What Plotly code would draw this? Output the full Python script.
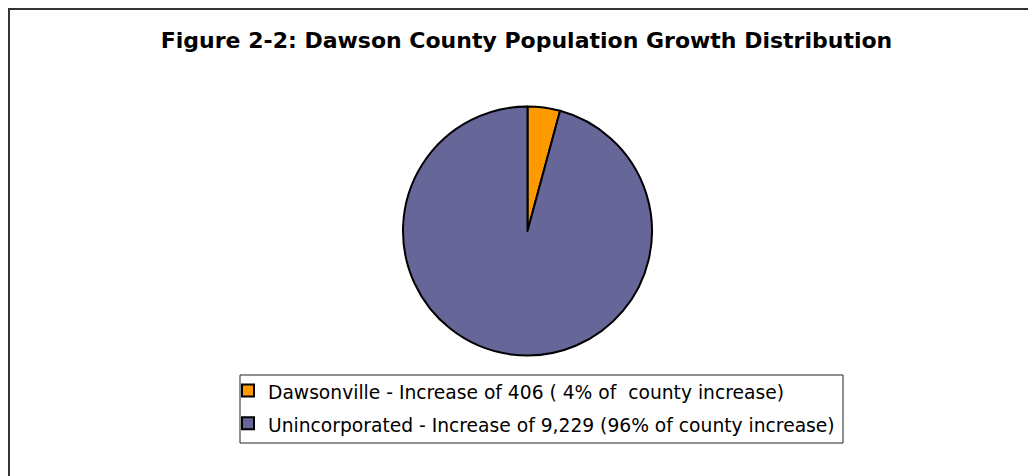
import plotly.graph_objects as go

W, H = 1036, 476

labels = [
    "Dawsonville - Increase of 406 ( 4% of  county increase)",
    "Unincorporated - Increase of 9,229 (96% of county increase)",
]
values = [406, 9229]
colors = ["#FF9900", "#666699"]
title_text = "Figure 2-2: Dawson County Population Growth Distribution"

FONT = "DejaVu Sans, Liberation Sans, Arial, sans-serif"

legend_labels = ['<span style="font-size:18.7px">' + l + "</span>" for l in labels]

fig = go.Figure(
    go.Pie(
        labels=legend_labels,
        values=values,
        sort=False,
        direction="clockwise",
        rotation=0,
        textinfo="none",
        hovertemplate="%{label}<br>%{value}<extra></extra>",
        marker=dict(colors=colors, line=dict(color="#000000", width=2)),
        domain=dict(x=[395 / W, 644 / W], y=[(H - 347.5) / H, (H - 98.5) / H]),
    )
)

fig.update_layout(
    width=W,
    height=H,
    margin=dict(l=0, r=0, t=0, b=0),
    paper_bgcolor="white",
    plot_bgcolor="white",
    font=dict(family=FONT, color="#000000"),
    title=dict(
        text="<b>" + title_text + "</b>",
        x=518.5 / W,
        xanchor="center",
        y=1 - 32 / H,
        yanchor="middle",
        xref="paper",
        yref="paper",
        font=dict(size=22, family=FONT, color="#000000"),
    ),
    showlegend=True,
    legend=dict(
        x=220 / W,
        xanchor="left",
        y=1 - 361 / H,
        yanchor="top",
        borderwidth=0,
        bgcolor="rgba(0,0,0,0)",
        font=dict(size=23, family=FONT, color="#000000"),
        itemwidth=30,
    ),
    shapes=[
        # outer chart frame (extends past the visible window on right/bottom)
        dict(
            type="rect", xref="paper", yref="paper",
            x0=0, x1=1.05, y0=-0.05, y1=1,
            line=dict(color="#333333", width=4),
            fillcolor="rgba(0,0,0,0)", layer="below",
        ),
        # legend frame
        dict(
            type="rect", xref="paper", yref="paper",
            x0=232 / W, x1=835 / W, y0=1 - 435 / H, y1=1 - 367 / H,
            line=dict(color="#222222", width=1),
            fillcolor="rgba(0,0,0,0)", layer="below",
        ),
    ],
)

fig.write_html("out.html")
